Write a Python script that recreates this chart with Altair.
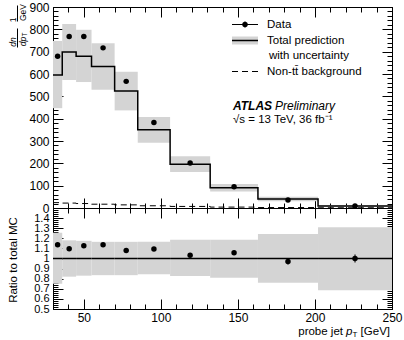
import altair as alt
import pandas as pd

# ---------------- data ----------------
bin_lo = [30, 36, 45, 55, 70, 85, 106, 132, 163, 202]
bin_hi = [36, 45, 55, 70, 85, 106, 132, 163, 202, 250]
pred = [595, 698, 679, 634, 524, 350, 196, 91, 40, 9]
pred_lo = [447, 573, 564, 530, 437, 292, 161, 74, 30, 6]
pred_hi = [748, 824, 798, 738, 610, 408, 232, 108, 50, 12]
data_val = [679, 768, 768, 717, 567, 383, 202, 95, 36, 9]
data_err = [6, 6, 6, 6, 5, 4, 3, 2, 1, 0.4]
bkg = [24, 22, 20, 17, 14, 10, 7, 4, 2, 1]
ratio = [1.136, 1.096, 1.126, 1.136, 1.08, 1.093, 1.033, 1.056, 0.97, 1.0]
ratio_err = [0.01, 0.01, 0.01, 0.01, 0.01, 0.012, 0.015, 0.02, 0.03, 0.04]
ratio_lo = [0.75, 0.82, 0.83, 0.835, 0.835, 0.843, 0.826, 0.81, 0.76, 0.686]
ratio_hi = [1.255, 1.18, 1.175, 1.165, 1.165, 1.166, 1.186, 1.186, 1.243, 1.31]

x_major = [50, 100, 150, 200, 250]
x_minor = list(range(30, 251, 10))
yt_major = list(range(0, 901, 100))
yt_minor = list(range(0, 901, 20))
yb_labels = [0.5, 0.6, 0.7, 0.8, 0.9, 1.0, 1.1, 1.2, 1.3, 1.4]
yb_major = [round(0.5 + 0.1 * i, 2) for i in range(11)]
yb_minor = [round(0.5 + 0.02 * i, 2) for i in range(51)]

FONT = "Liberation Sans"
GRAY = "#d4d4d4"

bins = pd.DataFrame({
    "lo": bin_lo, "hi": bin_hi, "pred": pred, "plo": pred_lo, "phi": pred_hi,
    "data": data_val, "err": data_err, "ratio": ratio, "rerr": ratio_err,
    "rlo": ratio_lo, "rhi": ratio_hi,
})
bins["c"] = (bins["lo"] + bins["hi"]) / 2
bins["d_lo"] = bins["data"] - bins["err"]
bins["d_hi"] = bins["data"] + bins["err"]
bins["r_lo"] = bins["ratio"] - bins["rerr"]
bins["r_hi"] = bins["ratio"] + bins["rerr"]

steps = pd.DataFrame({
    "x": bin_lo + [bin_hi[-1]],
    "pred": pred + [pred[-1]],
    "bkg": bkg + [bkg[-1]],
})

xs = alt.Scale(domain=[30, 250], nice=False, zero=False)
yt = alt.Scale(domain=[0, 900], nice=False)
yb = alt.Scale(domain=[0.5, 1.5], nice=False, zero=False)


def ax(orient, values, size, labels=False, fmt=None, pad=4, lsize=12):
    kw = dict(orient=orient, values=values, tickSize=size, offset=-size,
              domain=False, grid=False, labels=labels, title=None, ticks=True,
              tickColor="black", tickWidth=1)
    if labels:
        kw.update(labelFont=FONT, labelFontSize=lsize, labelColor="black",
                  labelPadding=pad, labelOverlap=False, labelFlush=False)
    if fmt:
        kw["format"] = fmt
    return alt.Axis(**kw)


def txt(s, x, y, size=11.5, style="normal", weight="normal", align="left", angle=0):
    return alt.Chart().mark_text(
        text=s, align=align, baseline="middle", font=FONT, fontSize=size,
        fontStyle=style, fontWeight=weight, angle=angle, color="black"
    ).encode(x=alt.value(x), y=alt.value(y))


def hrule(x1, x2, y, width=1, dash=None):
    kw = dict(color="black", strokeWidth=width)
    if dash:
        kw["strokeDash"] = dash
    return alt.Chart().mark_rule(**kw).encode(x=alt.value(x1), x2=alt.value(x2), y=alt.value(y))


def vrule(x, y1, y2, width=1):
    return alt.Chart().mark_rule(color="black", strokeWidth=width).encode(
        x=alt.value(x), y=alt.value(y1), y2=alt.value(y2))


# ---------------- top panel ----------------
band = alt.Chart(bins).mark_rect(color=GRAY).encode(
    x=alt.X("lo:Q", scale=xs, axis=ax("bottom", x_major, 10)), x2="hi",
    y=alt.Y("plo:Q", scale=yt, axis=ax("left", yt_major, 10, labels=True)), y2="phi")
step = alt.Chart(steps).mark_line(interpolate="step-after", color="black", strokeWidth=1.5).encode(
    x=alt.X("x:Q", scale=xs, axis=ax("bottom", x_minor, 5)),
    y=alt.Y("pred:Q", scale=yt, axis=ax("left", yt_minor, 5)))
bkgl = alt.Chart(steps).mark_line(interpolate="step-after", color="black", strokeWidth=1,
                                  strokeDash=[6, 4]).encode(
    x=alt.X("x:Q", scale=xs, axis=ax("top", x_major, 10)),
    y=alt.Y("bkg:Q", scale=yt, axis=ax("right", yt_major, 10)))
errs = alt.Chart(bins).mark_rule(color="black").encode(
    x=alt.X("c:Q", scale=xs, axis=None),
    y=alt.Y("d_lo:Q", scale=yt, axis=None), y2="d_hi")
pts = alt.Chart(bins).mark_circle(size=30, color="black", opacity=1).encode(
    x=alt.X("c:Q", scale=xs, axis=ax("top", x_minor, 5)),
    y=alt.Y("data:Q", scale=yt, axis=ax("right", yt_minor, 5)))

legend = [
    hrule(179, 205, 17.5, 1),
    vrule(192, 14.5, 20.5),
    alt.Chart().mark_circle(size=30, color="black", opacity=1).encode(x=alt.value(192), y=alt.value(17.5)),
    alt.Chart().mark_rect(color=GRAY).encode(x=alt.value(179), x2=alt.value(205),
                                             y=alt.value(29.5), y2=alt.value(37.5)),
    hrule(179, 205, 33.5, 1.5),
    hrule(179, 205, 64.5, 1, [6, 4]),
    txt("Data", 214, 17.5),
    txt("Total prediction", 214, 33.5),
    txt("with uncertainty", 216, 48.5),
    txt("Non-tt\u0304 background", 214, 64.5),
    txt("ATLAS", 180, 99, size=12, style="italic", weight="bold"),
    txt("Preliminary", 222, 99, size=12, style="italic"),
    txt("\u221as = 13 TeV, 36 fb\u207b\u00b9", 180, 112.5, size=11.5),
    # y-axis title as two rotated fractions
    txt("dn", -40, 35, size=8.5, style="italic", align="center", angle=270),
    txt("dp", -30, 34.5, size=8.5, style="italic", align="center", angle=270),
    txt("T", -28, 27.5, size=6.5, align="center", angle=270),
    vrule(-35.5, 21.5, 40.5),
    txt("1", -40, 13, size=8.5, align="center", angle=270),
    txt("GeV", -30, 5.5, size=8.5, align="center", angle=270),
    vrule(-35.5, -1.5, 14.5),
]

top = alt.layer(band, step, bkgl, errs, pts, *legend).resolve_axis(
    x="independent", y="independent").properties(width=339, height=201)

# ---------------- ratio panel ----------------
rband = alt.Chart(bins).mark_rect(color=GRAY).encode(
    x=alt.X("lo:Q", scale=xs, axis=ax("bottom", x_major, 10, labels=True, pad=3)), x2="hi",
    y=alt.Y("rlo:Q", scale=yb,
            axis=ax("left", yb_labels, 10, labels=True, fmt=".1~f", lsize=11)), y2="rhi")
one = alt.Chart(bins).mark_rule(color="black", strokeWidth=1.5).encode(
    x=alt.X("lo:Q", scale=xs, axis=ax("bottom", x_minor, 5)), x2="hi",
    y=alt.YDatum(1, type="quantitative", scale=yb, axis=ax("left", yb_minor, 5)))
rerr = alt.Chart(bins).mark_rule(color="black").encode(
    x=alt.X("c:Q", scale=xs, axis=ax("top", x_major, 10)),
    y=alt.Y("r_lo:Q", scale=yb, axis=ax("right", yb_major, 10)), y2="r_hi")
rpts = alt.Chart(bins).mark_circle(size=30, color="black", opacity=1).encode(
    x=alt.X("c:Q", scale=xs, axis=ax("top", x_minor, 5)),
    y=alt.Y("ratio:Q", scale=yb, axis=ax("right", yb_minor, 5)))

rtexts = [
    txt("Ratio to total MC", -39, 52, size=11.5, align="center", angle=270),
    txt("[GeV]", 337, 124, size=11.5, align="right"),
    txt("T", 304.5, 127, size=8, align="right"),
    txt("p", 299.5, 124, size=11.5, style="italic", align="right"),
    txt("probe jet", 290, 124, size=11.5, align="right"),
]

bottom = alt.layer(rband, one, rerr, rpts, *rtexts).resolve_axis(
    x="independent", y="independent").properties(width=339, height=101)

chart = alt.vconcat(top, bottom, spacing=0, bounds="flush").properties(
    autosize=alt.AutoSizeParams(type="none"),
    padding={"left": 53, "top": 7, "right": 12, "bottom": 333},
).configure_view(stroke="black", strokeWidth=1)

chart.save("out.html", embed_options={"renderer": "svg", "actions": False})
